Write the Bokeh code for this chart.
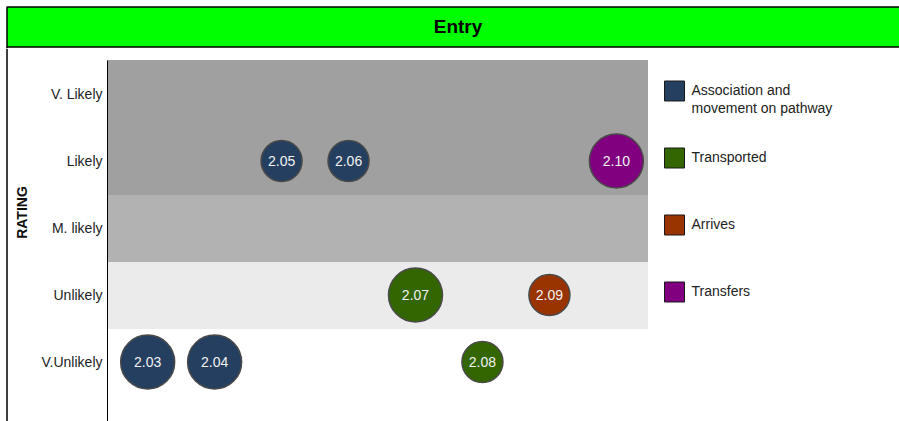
import textwrap
import numpy as np
from bokeh.plotting import figure
from bokeh.models import Range1d, FixedTicker
from bokeh.layouts import row, column
from bokeh.embed import file_html
from bokeh.resources import INLINE
from bokeh.core.properties import value

# ---------------- data ----------------
title_text = "Entry"
axis_title = "RATING"
rating_levels = ["V.Unlikely", "Unlikely", "M. likely", "Likely", "V. Likely"]   # bottom -> top
band_colors = ["#ffffff", "#ebebeb", "#b2b2b2", "#a0a0a0", "#a0a0a0"]
series_names = ["Association and movement on pathway", "Transported", "Arrives", "Transfers"]
series_colors = ["#243f60", "#336600", "#993300", "#800080"]
point_labels = ["2.03", "2.04", "2.05", "2.06", "2.07", "2.08", "2.09", "2.10"]
point_series = [0, 0, 0, 0, 1, 1, 2, 3]
point_rating = ["V.Unlikely", "V.Unlikely", "Likely", "Likely", "Unlikely", "V.Unlikely", "Unlikely", "Likely"]
point_weight = [2, 2, 1, 1, 2, 1, 1, 2]

# ---------------- layout constants ----------------
FONT = "Liberation Sans"
W, H = 899, 421
HEADER_H = 48
STRIP_W = 36
LEG_W = 251
BODY_H = H - HEADER_H
MAIN_W = W - STRIP_W - LEG_W
TEXT_COLOR = "#222222"
PX_PER_LEVEL = 67.0
PLOT_TOP = 60


def blank(width, height, xr, yr):
    f = figure(width=width, height=height, x_range=xr, y_range=yr,
               output_backend="svg", toolbar_location=None,
               x_axis_location=None, y_axis_location=None,
               min_border=0, min_border_left=0, min_border_right=0,
               min_border_top=0, min_border_bottom=0)
    f.outline_line_color = None
    f.grid.visible = False
    f.background_fill_color = "white"
    f.border_fill_color = "white"
    return f


# ---------------- header ----------------
hd = blank(W, HEADER_H, Range1d(0, W), Range1d(HEADER_H, 0))
bar_left, bar_right = 6.5, 908.5
hd.quad(left=[bar_left], right=[bar_right], top=[6.5], bottom=[46.5],
        fill_color="#00ff00", line_color="black", line_width=1.5)
hd.segment(x0=[bar_left], y0=[46.5], x1=[bar_left], y1=[HEADER_H],
           line_color="black", line_width=1.5)
hd.text(x=[(bar_left + bar_right) / 2], y=[26], text=[title_text],
        text_font=value(FONT), text_font_style="bold", text_font_size="19px",
        text_align="center", text_baseline="middle", text_color="black")

# ---------------- left strip (border + axis title) ----------------
st = blank(STRIP_W, BODY_H, Range1d(0, STRIP_W), Range1d(H, HEADER_H))
st.segment(x0=[6.5], y0=[HEADER_H], x1=[6.5], y1=[H], line_color="black", line_width=1.5)
st.text(x=[21], y=[212], text=[axis_title], angle=np.pi / 2,
        text_font=value(FONT), text_font_style="bold", text_font_size="14px",
        text_align="center", text_baseline="middle", text_color="#111111")

# ---------------- main chart ----------------
x_lo, x_hi = 0.4, 8.48
y_top_band = len(rating_levels) + 0.5
y_hi = y_top_band + (PLOT_TOP - HEADER_H) / PX_PER_LEVEL
y_lo = y_hi - BODY_H / PX_PER_LEVEL
p = figure(width=MAIN_W, height=BODY_H, output_backend="svg", toolbar_location=None,
           x_range=Range1d(x_lo, x_hi), y_range=Range1d(y_lo, y_hi),
           x_axis_location=None,
           min_border_left=107 - STRIP_W, min_border_right=0,
           min_border_top=0, min_border_bottom=0)
p.outline_line_color = None
p.grid.visible = False
p.background_fill_color = "white"
p.border_fill_color = "white"

levels_num = list(range(1, len(rating_levels) + 1))
p.hbar(y=levels_num, height=1, left=x_lo, right=x_hi,
       fill_color=band_colors, line_color=band_colors, line_width=1)

px = list(range(1, len(point_labels) + 1))
py = [rating_levels.index(r) + 1 for r in point_rating]
pcol = [series_colors[s] for s in point_series]
psize = [28 + 13 * w for w in point_weight]
p.scatter(x=px, y=py, size=psize, marker="circle", fill_color=pcol,
          line_color="#4a4a4a", line_width=1.5)
p.text(x=px, y=py, text=point_labels,
       text_font=value(FONT), text_font_size="14px", text_color="#f2f2f2",
       text_align="center", text_baseline="middle")

ya = p.yaxis[0]
ya.ticker = FixedTicker(ticks=levels_num)
ya.major_label_overrides = {i + 1: lab for i, lab in enumerate(rating_levels)}
ya.bounds = (y_lo, y_top_band)
ya.major_tick_line_color = None
ya.minor_tick_line_color = None
ya.major_tick_out = 0
ya.major_tick_in = 0
ya.major_label_standoff = 5
ya.axis_line_color = "black"
ya.axis_line_width = 1
ya.major_label_text_font = FONT
ya.major_label_text_font_size = "14px"
ya.major_label_text_color = TEXT_COLOR

# ---------------- legend ----------------
lg = blank(LEG_W, BODY_H, Range1d(W - LEG_W, W), Range1d(H, HEADER_H))
LEG_Y0, LEG_STEP, LINE_H = 90.5, 67, 18
sq_y = [LEG_Y0 + LEG_STEP * i for i in range(len(series_names))]
lg.scatter(x=[674] * len(series_names), y=sq_y, marker="square", size=20,
           fill_color=series_colors, line_color="#1a1a1a", line_width=1)
tx, ty, tt = [], [], []
for i, name in enumerate(series_names):
    for k, line in enumerate(textwrap.wrap(name, 20)):
        tx.append(691)
        ty.append(sq_y[i] - 1 + LINE_H * k)
        tt.append(line)
lg.text(x=tx, y=ty, text=tt, text_font=value(FONT), text_font_size="14px",
        text_color=TEXT_COLOR, text_align="left", text_baseline="middle")

layout = column(hd, row(st, p, lg, spacing=0), spacing=0)

with open("out.html", "w") as f:
    f.write(file_html(layout, INLINE))
